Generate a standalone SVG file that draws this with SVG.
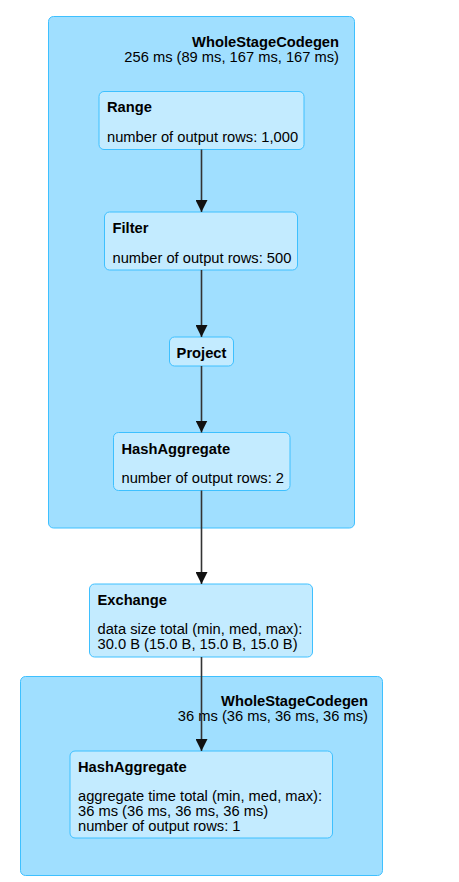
<svg xmlns="http://www.w3.org/2000/svg" width="459" height="882" viewBox="0 0 459 882">
<style>
.cluster{fill:#A0DFFF;stroke:#3EC0FF;stroke-width:1px}
.node{fill:#C3EBFF;stroke:#3EC0FF;stroke-width:1px}
text{font-family:"Liberation Sans",Arial,sans-serif;font-size:14.7px;fill:#000}
.b{font-weight:bold}
.edge{stroke:#333;stroke-width:1.6px;fill:none}
</style>
<defs>
<marker id="arr" viewBox="0 0 12 12" refX="12" refY="6" markerWidth="12" markerHeight="12" markerUnits="userSpaceOnUse" orient="auto">
<path d="M0,0 L12,6 L0,12 z" fill="#111"/>
</marker>
</defs>
<g id="cluster1">
<rect class="cluster" x="48.5" y="16.5" width="306" height="511.5" rx="5" ry="5"/>
<text class="b" x="339" y="47" text-anchor="end">WholeStageCodegen</text>
<text x="339" y="62" text-anchor="end">256 ms (89 ms, 167 ms, 167 ms)</text>
</g>
<g id="cluster2">
<rect class="cluster" x="20.5" y="676.5" width="362" height="199" rx="5" ry="5"/>
<text class="b" x="368" y="706" text-anchor="end">WholeStageCodegen</text>
<text x="368" y="721" text-anchor="end">36 ms (36 ms, 36 ms, 36 ms)</text>
</g>
<g id="range">
<rect class="node" x="99" y="91.5" width="205" height="58" rx="5" ry="5"/>
<text class="b" x="107" y="112">Range</text>
<text x="107" y="142">number of output rows: 1,000</text>
</g>
<g id="filter">
<rect class="node" x="104.5" y="212" width="193" height="58" rx="5" ry="5"/>
<text class="b" x="112.5" y="232.5">Filter</text>
<text x="112.5" y="263">number of output rows: 500</text>
</g>
<g id="project">
<rect class="node" x="169.5" y="337" width="64" height="29" rx="5" ry="5"/>
<text class="b" x="201.5" y="358" text-anchor="middle">Project</text>
</g>
<g id="hashagg1">
<rect class="node" x="113.5" y="432.5" width="176.5" height="58" rx="5" ry="5"/>
<text class="b" x="121.5" y="453.5">HashAggregate</text>
<text x="121.5" y="483">number of output rows: 2</text>
</g>
<g id="exchange">
<rect class="node" x="89.5" y="584" width="223" height="73" rx="5" ry="5"/>
<text class="b" x="97.5" y="604.5">Exchange</text>
<text x="97.5" y="634">data size total (min, med, max):</text>
<text x="97.5" y="649">30.0 B (15.0 B, 15.0 B, 15.0 B)</text>
</g>
<g id="hashagg2">
<rect class="node" x="70" y="751" width="262.5" height="87" rx="5" ry="5"/>
<text class="b" x="78" y="771.5">HashAggregate</text>
<text x="78" y="800.5">aggregate time total (min, med, max):</text>
<text x="78" y="815.5">36 ms (36 ms, 36 ms, 36 ms)</text>
<text x="78" y="830.5">number of output rows: 1</text>
</g>
<g id="connectors">
<path class="edge" d="M201.5,149.5 L201.5,212" marker-end="url(#arr)"/>
<path class="edge" d="M201.5,270 L201.5,337" marker-end="url(#arr)"/>
<path class="edge" d="M201.5,366 L201.5,432.5" marker-end="url(#arr)"/>
<path class="edge" d="M201.5,490.5 L201.5,584" marker-end="url(#arr)"/>
<path class="edge" d="M201.5,657 L201.5,751" marker-end="url(#arr)"/>
</g>
</svg>
